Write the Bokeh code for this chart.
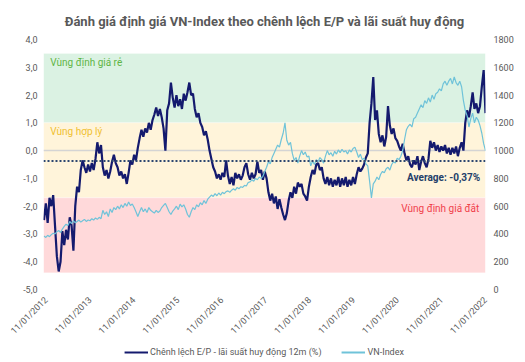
import pandas as pd
from datetime import datetime
from bokeh.plotting import figure
from bokeh.layouts import column
from bokeh.models import (Range1d, LinearAxis, FixedTicker, DatetimeTickFormatter,
                          BoxAnnotation, Span, Label, Legend, LegendItem, ColumnDataSource)
from bokeh.embed import file_html
from bokeh.resources import INLINE

# ---------------- data ----------------
start_date = "2011-12-24"
end_date = "2022-01-11"

ep_spread = [
    -2.5, -1.9, -2.6, -1.7, -2.0, -1.6, -2.7, -3.8, -4.35, -4.0,
    -2.9, -3.4, -2.85, -3.2, -2.4, -2.7, -3.6, -2.0, -1.3, -1.5,
    -0.7, -0.35, -0.6, -0.8, -0.5, -0.75, -0.45, -0.7, -0.3, 0.3,
    -0.1, 0.2, -0.6, -0.9, -0.7, -1.0, -0.75, -0.4, -0.15, -0.45,
    -0.6, -0.9, -0.75, -1.0, -0.85, -1.2, -0.8, -0.35, -0.5, -0.15,
    -0.35, 0.1, 0.45, 0.75, 0.5, 0.8, 0.65, 1.0, 0.75, 1.1,
    1.3, 1.55, 1.25, 1.5, 1.2, 0.8, 0.0, 1.45, 1.7, 2.45,
    1.9, 1.55, 2.0, 1.6, 1.85, 1.5, 2.05, 1.8, 2.1, 2.45,
    2.0, 2.05, 1.5, 1.2, 1.35, 1.0, 0.85, 0.55, 0.7, 0.4,
    0.0, -0.3, -0.6, -0.75, -1.0, -0.85, -1.05, -0.8, -0.95, -0.35,
    -0.9, -1.2, -0.95, -1.25, -0.8, -1.0, -0.85, -1.05, -0.9, -0.6,
    -0.45, -0.85, -1.05, -0.8, -1.0, -0.85, -0.4, -0.8, -0.7, -1.05,
    -0.75, -1.0, -1.5, -1.8, -1.55, -1.9, -1.65, -2.1, -1.75, -2.05,
    -2.3, -2.5, -2.25, -1.8, -1.5, -1.7, -1.3, -1.55, -1.15, -1.3,
    -1.2, -1.55, -1.65, -1.8, -1.3, -0.95, -0.7, -0.85, -0.5, -0.45,
    -0.7, -0.6, -1.0, -1.2, -0.95, -1.25, -1.0, -1.3, -1.05, -1.25,
    -0.95, -1.3, -1.0, -1.25, -0.95, -1.3, -1.05, -1.25, -0.95, -1.2,
    -0.85, -0.6, -0.75, -0.65, -0.5, -0.25, -0.1, 1.0, 1.7, 2.65,
    1.1, 1.45, 0.6, 0.3, 0.55, 0.15, 0.5, 1.6, 0.9, 0.6,
    0.8, 0.45, 0.35, 0.15, 0.0, 0.25, -0.1, -0.35, -0.2, -0.5,
    -0.6, -0.35, -0.5, -0.2, -0.7, -0.4, -0.2, -0.45, -0.6, -0.3,
    0.35, 0.1, 0.3, 0.0, 0.2, -0.05, 0.15, 0.0, 0.2, -0.1,
    0.1, -0.15, 0.1, -0.1, 0.15, -0.2, 0.1, 0.3, 0.0, 1.0,
    1.45, 1.2, 1.6, 2.1, 1.5, 1.7, 1.35, 1.6, 2.3, 2.9,
    1.35,
]

vn_index = [
    385, 375, 390, 380, 395, 405, 400, 415, 425, 410,
    435, 455, 470, 460, 490, 475, 495, 480, 490, 500,
    485, 495, 505, 490, 500, 495, 510, 500, 515, 505,
    520, 510, 570, 540, 560, 525, 580, 555, 590, 575,
    600, 580, 610, 590, 620, 600, 630, 605, 615, 590,
    560, 525, 560, 590, 560, 580, 555, 590, 570, 560,
    550, 570, 555, 565, 590, 605, 620, 590, 560, 540,
    565, 580, 600, 575, 615, 595, 610, 580, 540, 520,
    560, 590, 575, 610, 595, 625, 610, 640, 620, 650,
    665, 680, 670, 690, 675, 695, 680, 700, 690, 705,
    710, 700, 715, 725, 715, 735, 725, 740, 735, 750,
    745, 770, 775, 790, 780, 800, 790, 810, 800, 815,
    850, 880, 920, 905, 950, 980, 1010, 1040, 1025, 1080,
    1125, 1200, 1075, 1040, 1060, 980, 930, 950, 910, 960,
    1000, 970, 990, 955, 960, 890, 925, 900, 935, 920,
    950, 935, 910, 960, 1000, 970, 985, 960, 995, 975,
    1005, 985, 1010, 990, 1000, 975, 1005, 990, 1015, 1025,
    990, 950, 975, 935, 945, 905, 890, 780, 660, 760,
    780, 810, 790, 830, 850, 840, 870, 880, 860, 900,
    920, 910, 945, 935, 960, 1000, 1080, 1150, 1175, 1190,
    1170, 1230, 1240, 1270, 1300, 1330, 1310, 1360, 1340, 1380,
    1350, 1400, 1370, 1410, 1420, 1445, 1430, 1480, 1500, 1470,
    1500, 1520, 1480, 1530, 1490, 1470, 1500, 1460, 1360, 1290,
    1250, 1170, 1230, 1270, 1200, 1240, 1220, 1180, 1125, 1050,
    1000,
]

average_spread = -0.37

tick_dates = ["2012-01-11", "2013-01-11", "2014-01-11", "2015-01-11", "2016-01-11",
              "2017-01-11", "2018-01-11", "2019-01-11", "2020-01-11", "2021-01-11",
              "2022-01-11"]
left_ticks = [-5, -4, -3, -2, -1, 0, 1, 2, 3, 4]
left_tick_labels = ["-5,0", "-4,0", "-3,0", "-2,0", "-1,0", "0,0", "1,0", "2,0", "3,0", "4,0"]
right_ticks = [0, 200, 400, 600, 800, 1000, 1200, 1400, 1600, 1800]

zones = [  # (bottom, top, fill colour, label, label colour)
    (1.0, 3.5, "#dbf2e3", "Vùng định giá rẻ", "#5fb545"),
    (-1.7, 1.0, "#fff4da", "Vùng hợp lý", "#f0c030"),
    (-4.4, -1.7, "#ffd9da", "Vùng định giá đắt", "#f0414b"),
]

title_text = "Đánh giá định giá VN-Index theo chênh lệch E/P và lãi suất huy động"
ep_name = "Chênh lệch E/P - lãi suất huy động 12m (%)"
vn_name = "VN-Index"

# ---------------- chart ----------------
FONT = "Roboto"
GREY = "#595959"
NAVY = "#141a6e"
LBLUE = "#6fc3d9"

dates = pd.date_range(start_date, end_date, periods=len(ep_spread))
src = ColumnDataSource(dict(date=dates, ep=ep_spread, vn=vn_index))

p = figure(width=517, height=342, output_backend="svg", toolbar_location=None,
           x_axis_type="datetime",
           x_range=Range1d(datetime(2011, 12, 20), datetime(2022, 1, 11)),
           y_range=Range1d(-5, 4),
           min_border_left=43, min_border_right=32, min_border_top=39, min_border_bottom=52)
p.outline_line_color = None
p.xgrid.visible = False
p.ygrid.visible = False
p.background_fill_color = "white"
p.border_fill_color = "white"

p.title.text = title_text
p.title.align = "center"
p.title.text_font = FONT
p.title.text_font_size = "13px"
p.title.text_font_style = "bold"
p.title.text_color = GREY
p.title.standoff = 21

p.extra_y_ranges = {"vn": Range1d(0, 1800)}

# zones
for bottom, top, fill, label, lcol in zones:
    p.add_layout(BoxAnnotation(bottom=bottom, top=top, fill_color=fill, fill_alpha=1.0,
                               line_color="white", line_width=1, level="underlay"))

p.add_layout(Span(location=0, dimension="width", line_color="#d4d4d4", line_width=1.5,
                  level="underlay"))

# lines
r_ep = p.line("date", "ep", source=src, line_color=NAVY, line_width=2.2)
r_vn = p.line("date", "vn", source=src, y_range_name="vn", line_color=LBLUE, line_width=1.2)

p.add_layout(Span(location=average_spread, dimension="width", line_color="#2c4770",
                  line_width=2, line_dash="2 2"))

# zone labels
p.add_layout(Label(x=datetime(2012, 2, 15), y=3.19, text=zones[0][3], text_color=zones[0][4],
                   text_font=FONT, text_font_size="10px", text_baseline="middle"))
p.add_layout(Label(x=datetime(2012, 2, 15), y=0.68, text=zones[1][3], text_color=zones[1][4],
                   text_font=FONT, text_font_size="10px", text_baseline="middle"))
p.add_layout(Label(x=datetime(2021, 11, 20), y=-2.09, text=zones[2][3], text_color=zones[2][4],
                   text_font=FONT, text_font_size="10px", text_baseline="middle",
                   text_align="right"))
p.add_layout(Label(x=datetime(2021, 11, 28), y=-0.98,
                   text="Average: " + f"{average_spread:.2f}".replace(".", ",") + "%",
                   text_color="#23406a", text_font=FONT, text_font_size="10px",
                   text_font_style="bold", text_baseline="middle", text_align="right"))

# axes
yl = p.yaxis[0]
yl.ticker = FixedTicker(ticks=left_ticks)
yl.major_label_overrides = {t: s for t, s in zip(left_ticks, left_tick_labels)}

yr = LinearAxis(y_range_name="vn", ticker=FixedTicker(ticks=right_ticks))
p.add_layout(yr, "right")

xa = p.xaxis[0]
xa.ticker = FixedTicker(ticks=[pd.Timestamp(d).value / 1e6 for d in tick_dates])
fmt = "%d/%m/%Y"
xa.formatter = DatetimeTickFormatter(milliseconds=fmt, seconds=fmt, minsec=fmt, minutes=fmt,
                                     hourmin=fmt, hours=fmt, days=fmt, months=fmt, years=fmt)
xa.major_label_orientation = 0.785398

for ax in (xa, yl, yr):
    ax.axis_line_color = None
    ax.major_tick_line_color = None
    ax.minor_tick_line_color = None
    ax.major_tick_out = 0
    ax.major_tick_in = 0
    ax.minor_tick_out = 0
    ax.major_label_text_font = FONT
    ax.major_label_text_font_size = "9px"
    ax.major_label_text_color = GREY
yl.major_label_standoff = 6
yr.major_label_standoff = 8
xa.major_label_standoff = 9

# ---------------- legend strip ----------------
lg = figure(width=517, height=20, output_backend="svg", toolbar_location=None,
            x_range=Range1d(0, 1), y_range=Range1d(0, 1),
            min_border_left=7, min_border_right=0, min_border_top=0, min_border_bottom=0)
lg.outline_line_color = None
lg.axis.visible = False
lg.grid.visible = False
# key lines: two-point segments kept outside the strip's visible range
lg_ep = lg.line(x=[-3, -2], y=[-3, -3], line_color=NAVY, line_width=2)
lg_vn = lg.line(x=[-3, -2], y=[-3, -3], line_color=LBLUE, line_width=2)
legend = Legend(items=[LegendItem(label=ep_name, renderers=[lg_ep]),
                       LegendItem(label=vn_name, renderers=[lg_vn])],
                location="center", orientation="horizontal",
                glyph_width=24, glyph_height=10, label_standoff=2, spacing=20,
                padding=1, margin=0, border_line_color=None, background_fill_alpha=0,
                label_text_font=FONT, label_text_font_size="9px", label_text_color=GREY)
lg.add_layout(legend)

open("out.html", "w").write(file_html(column(p, lg, spacing=0), INLINE))
